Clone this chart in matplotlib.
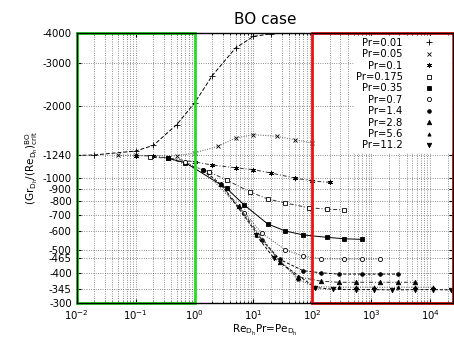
import matplotlib
matplotlib.use("Agg")
import matplotlib.pyplot as plt
from matplotlib.patches import Rectangle
from matplotlib.lines import Line2D
import numpy as np

plt.rcParams["font.family"] = ["DejaVu Sans"]
plt.rcParams["mathtext.default"] = "regular"

# Reynolds numbers run for every Prandtl number; x = Pe = Re*Pr
re_runs = [1, 2, 10, 20, 50, 100, 200, 500, 1000, 2000]
pr_vals = [0.01, 0.05, 0.1, 0.175, 0.35, 0.7, 1.4, 2.8, 5.6, 11.2]

# critical (Gr/Re) values, one list per Pr
g_001 = [-1240, -1245, -1293, -1365, -1667, -2050, -2666, -3480, -3882, -3985]
g_005 = [-1240, -1240, -1235, -1270, -1352, -1465, -1512, -1489, -1441, -1396]
g_01 = [-1236, -1233, -1165, -1130, -1101, -1081, -1047, -998, -970, -957]
g_0175 = [-1217, -1210, -1060, -979, -873, -816, -785, -750, -741, -734]
g_035 = [-1206, -1156, -904, -770, -642, -600, -578, -565, -557, -554]
g_07 = [-1160, -1078, -715, -587, -500, -472, -460, -459, -459, -459]
g_14 = [-1078, -939, -550, -457, -410, -402, -397, -397, -397, -397]
g_28 = [-939, -760, -446, -387, -371, -367, -367, -367, -367, -367]
g_56 = [-760, -580, -378, -352, -350, -350, -350, -350, -350, -350]
g_112 = [-575, -462, -349, -343, -342, -342, -341, -342, -342, -341]
series = [g_001, g_005, g_01, g_0175, g_035, g_07, g_14, g_28, g_56, g_112]

y_ticks = [-4000, -3000, -2000, -1240, -1000, -900, -800, -700, -600,
           -500, -465, -400, -345, -300]

# marker, fill, linestyle
STYLE = [("+", True, (0, (4, 2))), ("x", True, (0, (1, 1.5))),
         ((6, 2, 0), True, (0, (4, 2, 1, 2))), ("s", False, (0, (4, 2, 1, 2))),
         ("s", True, "-"), ("o", False, (0, (1, 1.5))),
         ("o", True, (0, (3, 2))), ("^", True, (0, (4, 2, 1, 2))),
         ("^", True, (0, (1, 1.5))), ("v", True, (0, (3, 2)))]
MS = [4, 3, 3.5, 3, 3.2, 3, 2.6, 3.2, 2.3, 3.2]
LC = ["black", "0.35", "0.2", "0.2", "black", "0.3", "black", "0.2", "0.3", "black"]

fig = plt.figure(figsize=(4.54, 3.42), dpi=100)
ax = fig.add_axes([0.169, 0.1132, 0.829, 0.7894])

handles = []
for pr, g, (mk, fill, ls), ms, lc in zip(pr_vals, series, STYLE, MS, LC):
    x = np.array(re_runs) * pr
    y = -np.array(g)
    fc = "black" if fill else "white"
    ax.plot(x, y, color=lc, ls=ls, lw=0.7, marker=mk, ms=ms,
            mfc=fc, mec="black", mew=0.6, zorder=3)
    handles.append(Line2D([], [], ls="none", marker=mk, ms=ms, mfc=fc,
                          mec="black", mew=0.6, color="black"))

ax.set_xscale("log")
ax.set_yscale("log")
ax.set_xlim(1e-2, 2.45e4)
ax.set_ylim(300, 4000)
ax.set_yticks([-v for v in y_ticks])
ax.set_yticklabels([str(v) for v in y_ticks])
ax.yaxis.set_minor_locator(matplotlib.ticker.NullLocator())
ax.tick_params(axis="both", which="both", direction="in", labelsize=7.3,
               top=True, right=True, length=3)
ax.tick_params(which="minor", length=1.5)
ax.grid(True, which="both", axis="x", ls=(0, (1, 2)), lw=0.55, color="0.3")
ax.grid(True, which="major", axis="y", ls=(0, (1, 2)), lw=0.55, color="0.3")

# highlighted regimes
ax.add_patch(Rectangle((1e-2, 300), 1 - 1e-2, 3700, fill=False,
                       ec="#22dd22", lw=2.0, zorder=4, clip_on=False))
ax.add_patch(Rectangle((100, 300), 2.45e4 - 100, 3700, fill=False,
                       ec="#ee1111", lw=2.0, zorder=4, clip_on=False))
for s in ax.spines.values():
    s.set_zorder(5)
    s.set_linewidth(1.0)

leg = ax.legend(handles, ["Pr=%g" % p for p in pr_vals], loc="upper right",
                fontsize=7.2, markerfirst=False, frameon=True, fancybox=False,
                edgecolor="white", framealpha=1, labelspacing=0.14,
                handlelength=4.0, handletextpad=0.6, borderaxespad=0.25,
                borderpad=0.2)
for t in leg.get_texts():
    t.set_ha("right")
leg.set_zorder(6)

ax.set_title("BO case", fontsize=11, pad=7)
ax.set_xlabel(r"Re$_{D_h}$Pr=Pe$_{D_h}$", fontsize=7.5, labelpad=1)
ax.set_ylabel(r"(Gr$_{D_h}$/(Re$_{D_h}$)$_{crit}^{BO}$", fontsize=7.5,
              labelpad=2)

fig.savefig("out.png", dpi=100)
